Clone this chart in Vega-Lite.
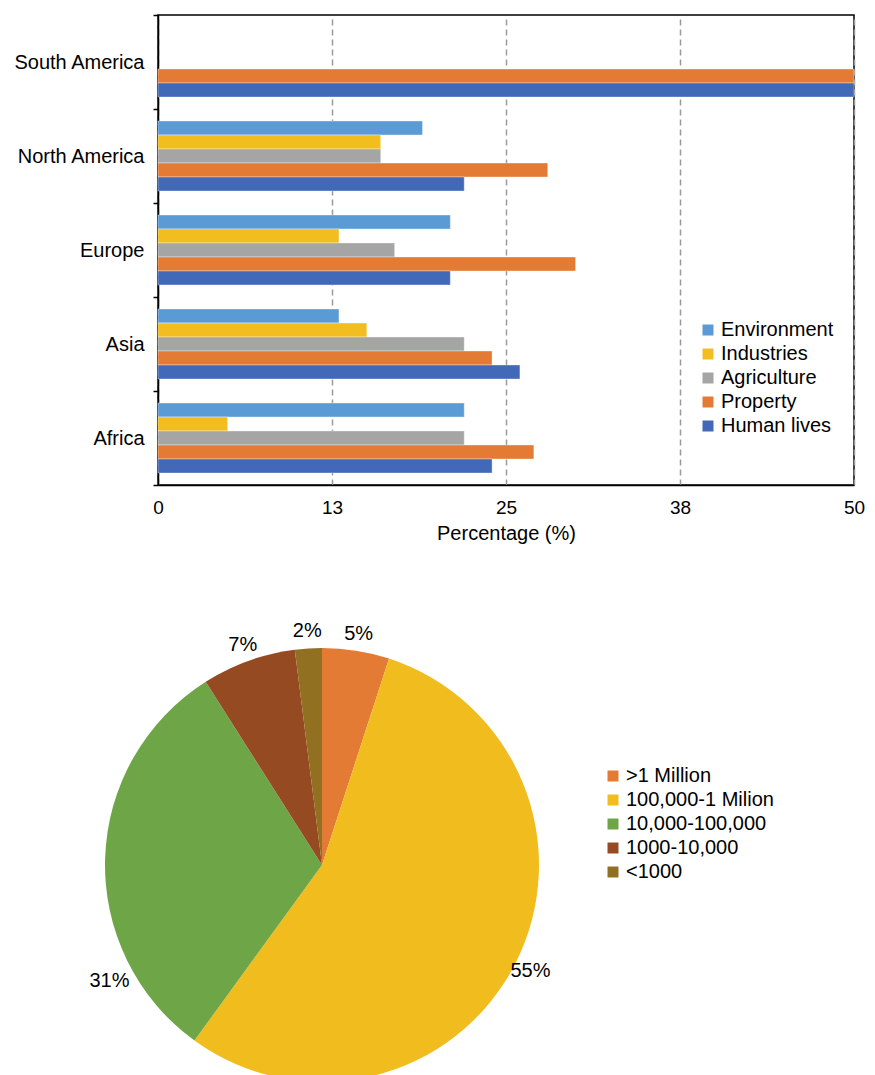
{
  "$schema": "https://vega.github.io/schema/vega-lite/v6.json",
  "padding": {"left": 12, "top": 4, "right": 5, "bottom": 0},
  "background": "white",
  "config": {"font": "Liberation Sans", "view": {"stroke": null}},
  "bounds": "flush",
  "spacing": 170,
  "resolve": {"scale": {"color": "independent"}, "legend": {"color": "independent"}},
  "vconcat": [
    {
      "width": 696,
      "height": 470,
      "view": {"stroke": "black", "strokeWidth": 1.5},
      "data": {
        "values": [
          {"region": "South America", "category": "Property", "value": 50},
          {"region": "South America", "category": "Human lives", "value": 50},
          {"region": "North America", "category": "Environment", "value": 19},
          {"region": "North America", "category": "Industries", "value": 16},
          {"region": "North America", "category": "Agriculture", "value": 16},
          {"region": "North America", "category": "Property", "value": 28},
          {"region": "North America", "category": "Human lives", "value": 22},
          {"region": "Europe", "category": "Environment", "value": 21},
          {"region": "Europe", "category": "Industries", "value": 13},
          {"region": "Europe", "category": "Agriculture", "value": 17},
          {"region": "Europe", "category": "Property", "value": 30},
          {"region": "Europe", "category": "Human lives", "value": 21},
          {"region": "Asia", "category": "Environment", "value": 13},
          {"region": "Asia", "category": "Industries", "value": 15},
          {"region": "Asia", "category": "Agriculture", "value": 22},
          {"region": "Asia", "category": "Property", "value": 24},
          {"region": "Asia", "category": "Human lives", "value": 26},
          {"region": "Africa", "category": "Environment", "value": 22},
          {"region": "Africa", "category": "Industries", "value": 5},
          {"region": "Africa", "category": "Agriculture", "value": 22},
          {"region": "Africa", "category": "Property", "value": 27},
          {"region": "Africa", "category": "Human lives", "value": 24}
        ]
      },
      "mark": {"type": "bar", "stroke": "white", "strokeWidth": 0.6, "strokeOpacity": 0.6},
      "encoding": {
        "y": {
          "field": "region",
          "type": "nominal",
          "sort": ["South America", "North America", "Europe", "Asia", "Africa"],
          "scale": {"paddingInner": 0, "paddingOuter": 0},
          "axis": {
            "title": null,
            "labelFontSize": 20,
            "labelColor": "black",
            "tickBand": "extent",
            "tickSize": 5,
            "tickColor": "black",
            "tickWidth": 1.5,
            "domainColor": "black",
            "domainWidth": 1.5,
            "labelPadding": 9
          }
        },
        "yOffset": {
          "field": "category",
          "type": "nominal",
          "sort": ["Environment", "Industries", "Agriculture", "Property", "Human lives"],
          "scale": {"paddingInner": 0, "paddingOuter": 0.857}
        },
        "x": {
          "field": "value",
          "type": "quantitative",
          "scale": {"domain": [0, 50], "nice": false},
          "axis": {
            "values": [0, 12.5, 25, 37.5, 50],
            "format": ".0f",
            "labelFlush": false,
            "title": "Percentage (%)",
            "titleFontSize": 20,
            "titleFontWeight": "normal",
            "titleColor": "black",
            "labelFontSize": 19,
            "labelColor": "black",
            "ticks": false,
            "labelPadding": 13,
            "titlePadding": 6,
            "grid": true,
            "gridDash": [6, 4],
            "gridColor": "#9a9a9a",
            "gridWidth": 1.5,
            "domainColor": "black",
            "domainWidth": 1.5
          }
        },
        "color": {
          "field": "category",
          "type": "nominal",
          "sort": ["Environment", "Industries", "Agriculture", "Property", "Human lives"],
          "scale": {
            "domain": ["Environment", "Industries", "Agriculture", "Property", "Human lives"],
            "range": ["#5B9BD5", "#F2BE1F", "#A5A5A5", "#E47B34", "#4169B7"]
          },
          "legend": {
            "title": null,
            "orient": "none",
            "legendX": 540,
            "legendY": 305,
            "labelFontSize": 20,
            "labelColor": "black",
            "symbolType": "square",
            "symbolSize": 121,
            "symbolStrokeWidth": 0,
            "rowPadding": 4,
            "labelOffset": 3,
            "padding": 0
          }
        }
      }
    },
    {
      "width": 328,
      "height": 420,
      "data": {
        "values": [
          {"size": ">1 Million", "pct": 5, "label": "5%", "rank": 1},
          {"size": "100,000-1 Milion", "pct": 55, "label": "55%", "rank": 2},
          {"size": "10,000-100,000", "pct": 31, "label": "31%", "rank": 3},
          {"size": "1000-10,000", "pct": 7, "label": "7%", "rank": 4},
          {"size": "<1000", "pct": 2, "label": "2%", "rank": 5}
        ]
      },
      "encoding": {
        "theta": {"field": "pct", "type": "quantitative", "stack": true},
        "order": {"field": "rank", "type": "quantitative"}
      },
      "layer": [
        {
          "mark": {"type": "arc", "radius": 217},
          "encoding": {
            "color": {
              "field": "size",
              "type": "nominal",
              "sort": [">1 Million", "100,000-1 Milion", "10,000-100,000", "1000-10,000", "<1000"],
              "scale": {
                "domain": [">1 Million", "100,000-1 Milion", "10,000-100,000", "1000-10,000", "<1000"],
                "range": ["#E47B34", "#F1BC1E", "#6EA647", "#954A22", "#927022"]
              },
              "legend": {
                "title": null,
                "orient": "none",
                "legendX": 445,
                "legendY": 111,
                "labelFontSize": 20,
                "labelColor": "black",
                "symbolType": "square",
                "symbolSize": 121,
                "symbolStrokeWidth": 0,
                "rowPadding": 4,
                "labelOffset": 3,
                "padding": 0
              }
            }
          }
        },
        {
          "mark": {"type": "text", "radius": 234, "fontSize": 20, "color": "black"},
          "encoding": {
            "text": {
              "condition": {"test": "datum.size === '10,000-100,000'", "value": ""},
              "field": "label"
            }
          }
        },
        {
          "mark": {"type": "text", "radius": 242, "thetaOffset": -0.53, "fontSize": 20, "color": "black"},
          "encoding": {
            "text": {
              "condition": {"test": "datum.size !== '10,000-100,000'", "value": ""},
              "field": "label"
            }
          }
        }
      ]
    }
  ]
}
